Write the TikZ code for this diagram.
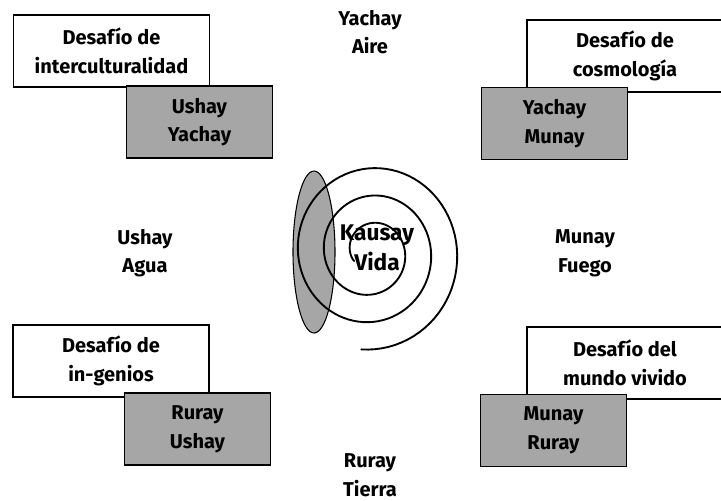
\documentclass[tikz,border=0pt]{standalone}
\usepackage{fontspec}
\setmainfont{Fira Sans}
\usetikzlibrary{positioning}

\begin{document}
\begin{tikzpicture}[x=0.75pt, y=-0.75pt,
  font=\fontsize{15}{21.5}\selectfont\bfseries,
  reto/.style={draw, line width=0.8pt, fill=white, align=center, inner sep=0pt,
    minimum width=147pt, minimum height=54pt},
  par/.style={draw, line width=0.8pt, fill=black!35, align=center, inner sep=0pt,
    minimum width=109pt, minimum height=54pt},
  rumbo/.style={align=center}]
  \useasboundingbox (0,0) rectangle (721,500);

  % Challenge boxes
  \node[reto] (retoIC) at (111.5,51) {Desafío de\\interculturalidad};
  \node[reto] (retoCO) at (625,56) {Desafío de\\cosmología};
  \node[reto] (retoIG) at (111,361) {Desafío de\\in-genios};
  \node[reto] (retoMV) at (625,363) {Desafío del\\mundo vivido};

  % Pairs
  \node[par] (parUY) at (199.5,122) {Ushay\\Yachay};
  \node[par] (parYM) at (554.5,123.5) {Yachay\\Munay};
  \node[par] (parRU) at (197.5,429) {Ruray\\Ushay};
  \node[par] (parMR) at (553.5,430.5) {Munay\\Ruray};

  % Directions
  \node[rumbo] (aire) at (370,32) {Yachay\\Aire};
  \node[rumbo] (agua) at (145,253) {Ushay\\Agua};
  \node[rumbo] (fuego) at (585,253) {Munay\\Fuego};
  \node[rumbo] (tierra) at (370,475) {Ruray\\Tierra};

  % Centre
  \draw[line width=0.8pt, fill=black!35] (314,252) ellipse (21 and 81);
  \draw[line width=1.4pt, line cap=round]
    plot[domain=153:1176, samples=240]
    ({371+0.95*(20+0.0762*(\x-153))*cos(\x)}, {252+(20+0.0762*(\x-153))*sin(\x)});
  \node[align=center, font=\fontsize{17}{22}\selectfont\bfseries] (vida) at (377,248) {Kausay\\Vida};
\end{tikzpicture}
\end{document}
